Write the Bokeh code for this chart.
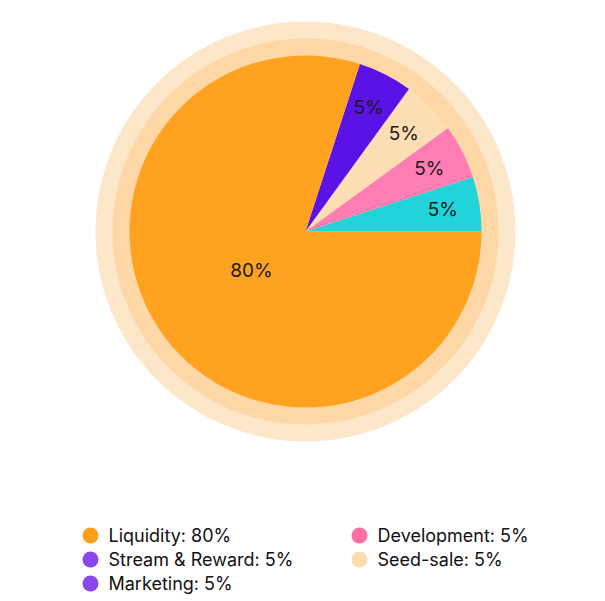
import math
from bokeh.plotting import figure
from bokeh.models import Range1d, ColumnDataSource
from bokeh.core.properties import value
from bokeh.embed import file_html
from bokeh.resources import INLINE

# ---- data ----
categories = ["Liquidity", "Stream & Reward", "Marketing", "Development", "Seed-sale"]
shares = [80, 5, 5, 5, 5]
# pie order counter-clockwise from 3 o'clock
pie_order = ["Marketing", "Development", "Seed-sale", "Stream & Reward", "Liquidity"]
pie_colors = {"Liquidity": "#FFA21F", "Stream & Reward": "#5A12E6",
              "Marketing": "#22D3D9", "Development": "#FF7DB2", "Seed-sale": "#FDDDB3"}
legend_colors = {"Liquidity": "#FF9F1C", "Stream & Reward": "#8A48EC",
                 "Marketing": "#8A48EC", "Development": "#FF6FA5", "Seed-sale": "#FDDCB0"}

W, H = 605, 601
p = figure(width=W, height=H, output_backend="svg", toolbar_location=None,
           x_range=Range1d(0, W), y_range=Range1d(0, H), min_border=0)
p.axis.visible = False
p.grid.visible = False
p.outline_line_color = None
p.background_fill_color = "white"
p.border_fill_color = "white"

cx, cy = 305, H - 231
R = 176

# rings
p.circle(x=[cx], y=[cy], radius=210, fill_color="#FDE7C9", line_color=None)
p.circle(x=[cx], y=[cy], radius=193, fill_color="#FDD8A6", line_color=None)

# wedges
starts, ends, cols, lx, ly, lt = [], [], [], [], [], []
ang = 0.0
for name in pie_order:
    v = shares[categories.index(name)]
    a0 = ang
    a1 = ang + v / 100 * 2 * math.pi
    starts.append(a0)
    ends.append(a1)
    cols.append(pie_colors[name])
    mid = (a0 + a1) / 2
    rr = 0.79 * R if v < 50 else 0.38 * R
    lx.append(cx + rr * math.cos(mid))
    ly.append(cy + rr * math.sin(mid))
    lt.append(f"{v}%")
    ang = a1

src = ColumnDataSource(dict(s=starts, e=ends, c=cols))
p.wedge(x=cx, y=cy, radius=R, start_angle="s", end_angle="e",
        fill_color="c", line_color=None, source=src)

p.text(x=lx, y=ly, text=lt, text_font=value("Inter"), text_font_size="19px",
       text_color="#1a1a1a", text_align="center", text_baseline="middle")

# legend
col1 = ["Liquidity", "Stream & Reward", "Marketing"]
col2 = ["Development", "Seed-sale"]
row_y = [535, 559, 583]
dx, dy, tt = [], [], []
dcol = []
for i, n in enumerate(col1):
    dx.append(90); dy.append(H - row_y[i]); dcol.append(legend_colors[n])
    tt.append(f"{n}: {shares[categories.index(n)]}%")
for i, n in enumerate(col2):
    dx.append(359); dy.append(H - row_y[i]); dcol.append(legend_colors[n])
    tt.append(f"{n}: {shares[categories.index(n)]}%")
p.scatter(x=dx, y=dy, size=16, marker="circle", fill_color=dcol, line_color=None)
p.text(x=[x + 18 for x in dx], y=dy, text=tt, text_font=value("Inter"),
       text_font_size="18px", text_color="#111111", text_align="left",
       text_baseline="middle")

open("out.html", "w").write(file_html(p, INLINE))
